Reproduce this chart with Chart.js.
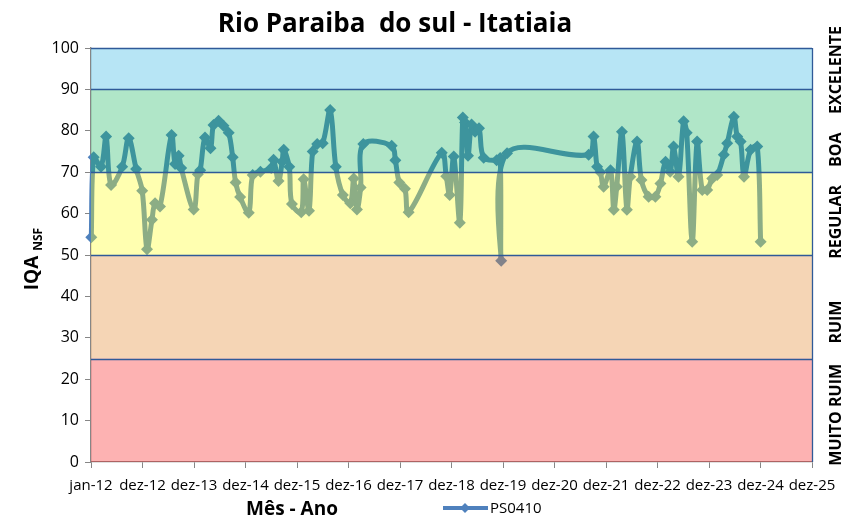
<!DOCTYPE html>
<html>
<head>
<meta charset="utf-8">
<script src="https://cdn.jsdelivr.net/npm/chart.js@4/dist/chart.umd.min.js"></script>
<style>
  html, body { margin: 0; padding: 0; background: #fff; }
  #wrap { width: 846px; height: 518px; }
</style>
</head>
<body>
<div id="wrap"><canvas id="c" width="846" height="518"></canvas></div>
<script>
// ---- data ----
const dates = [
  "2012-01-03","2012-01-20","2012-03-12","2012-04-17","2012-05-22","2012-08-09","2012-09-24","2012-11-16","2012-12-29",
  "2013-02-01","2013-03-08","2013-03-30","2013-05-04","2013-07-25","2013-08-19","2013-09-13","2013-10-01","2013-12-29",
  "2014-01-27","2014-02-13","2014-03-19","2014-04-27","2014-05-18","2014-06-23","2014-07-28","2014-09-03","2014-10-01","2014-10-22","2014-11-23",
  "2015-01-23","2015-02-20","2015-04-16","2015-07-01","2015-07-18","2015-08-22","2015-09-17","2015-09-28","2015-11-06","2015-11-25",
  "2016-01-30","2016-02-16","2016-03-25","2016-04-20","2016-05-22","2016-06-30","2016-08-22","2016-10-01","2016-11-20",
  "2017-01-12","2017-02-05","2017-02-28","2017-03-26","2017-04-14","2017-11-01","2017-11-27","2017-12-25",
  "2018-02-03","2018-03-01","2018-10-22","2018-11-23","2018-12-17",
  "2019-01-15","2019-02-27","2019-03-20","2019-04-05","2019-04-26","2019-05-21","2019-06-15","2019-07-13","2019-08-15","2019-11-15","2019-12-10","2019-12-17",
  "2020-01-28",
  "2021-08-28","2021-10-02","2021-10-27","2021-11-19","2021-12-12",
  "2022-01-30","2022-02-22","2022-03-15","2022-04-21","2022-05-26","2022-06-19","2022-08-06","2022-09-06","2022-10-27","2022-12-14",
  "2023-01-19","2023-02-24","2023-03-29","2023-04-22","2023-05-27","2023-07-02","2023-07-24","2023-09-01","2023-10-06","2023-11-11","2023-12-16",
  "2024-01-21","2024-02-25","2024-04-12","2024-05-06","2024-06-22","2024-07-16","2024-08-09","2024-09-02","2024-10-19","2024-12-05","2024-12-29"
];
const iqa = [
  54.3,73.6,71.3,78.6,66.9,71.3,78.2,70.8,65.5,
  51.4,58.5,62.5,61.7,79,72,74,71,61,
  69.5,70.5,78.4,75.8,81.4,82.4,81.2,79.5,73.6,67.5,64,
  60.2,69.3,70.1,71,73,67.9,72.5,75.4,71.3,62.3,
  60.3,68.3,60.7,75,76.8,77,85,71.3,64.5,
  62.5,68.5,61,66.3,76.8,76.4,72.9,67.5,
  66,60.3,74.7,69,64.5,
  73.8,57.8,83.2,82,74,81.5,79.8,80.6,73.5,72.9,73.4,48.6,
  74.6,
  74.2,78.6,71.3,70,66.5,
  70.5,60.9,66.5,79.8,60.9,68.9,77.4,68.1,64.1,64.1,
  67.3,72.5,70.1,76.2,68.9,82.3,79.5,53.2,77.4,65.7,65.7,
  68.5,69.3,74.2,77,83.4,78.6,77.4,68.9,75.4,76.2,53.2
];
const xTickLabels = ["jan-12","dez-12","dez-13","dez-14","dez-15","dez-16","dez-17","dez-18","dez-19","dez-20","dez-21","dez-22","dez-23","dez-24","dez-25"];
const seriesName = "PS0410";
const bandLimits = [0, 25, 50, 70, 90, 100];
const bandNames = ["MUITO RUIM", "RUIM", "REGULAR", "BOA", "EXCELENTE"];
const bandLabelAt = [11.4, 33.8, 58, 75.4, 94.7];

// ---- styles ----
const NARROW = "'Liberation Sans Narrow', 'Open Sans', sans-serif";
const LINE_BLUE = "#4F81BD";
// band colours laid over the line with alpha, so on white they give the reference tints
const BAND_ALPHA = 0.35;
const bandRGB = [[249,35,35],[226,135,43],[255,255,29],[29,184,98],[49,181,226]];
const BORDER_BLUE = "#2F5A98";

const day0 = Date.UTC(2012, 0, 1);
function toDays(s) {
  const p = s.split("-").map(Number);
  return (Date.UTC(p[0], p[1] - 1, p[2]) - day0) / 86400000;
}
const points = dates.map((d, i) => ({ x: toDays(d), y: iqa[i] }));

const bandsPlugin = {
  id: "bands",
  afterDatasetsDraw(chart) {
    const { ctx, chartArea: a, scales: { y } } = chart;
    ctx.save();
    for (let i = 0; i < bandNames.length; i++) {
      const top = y.getPixelForValue(bandLimits[i + 1]);
      const bot = y.getPixelForValue(bandLimits[i]);
      const c = bandRGB[i];
      ctx.fillStyle = `rgba(${c[0]},${c[1]},${c[2]},${BAND_ALPHA})`;
      ctx.fillRect(a.left, top, a.right - a.left, bot - top);
    }
    ctx.strokeStyle = BORDER_BLUE;
    ctx.lineWidth = 1.3;
    for (let i = 1; i < bandLimits.length; i++) {
      const py = Math.round(y.getPixelForValue(bandLimits[i])) + 0.5;
      ctx.beginPath();
      ctx.moveTo(a.left, py);
      ctx.lineTo(a.right, py);
      ctx.stroke();
    }
    ctx.beginPath();
    ctx.moveTo(Math.round(a.right) + 0.5, a.top);
    ctx.lineTo(Math.round(a.right) + 0.5, a.bottom);
    ctx.stroke();

    // band names on the right
    ctx.fillStyle = "#000";
    ctx.font = "bold 16px " + NARROW;
    ctx.textAlign = "center";
    ctx.textBaseline = "middle";
    for (let i = 0; i < bandNames.length; i++) {
      ctx.save();
      ctx.translate(836, y.getPixelForValue(bandLabelAt[i]));
      ctx.rotate(-Math.PI / 2);
      ctx.fillText(bandNames[i], 0, 0);
      ctx.restore();
    }
    ctx.restore();
  },
  afterDraw(chart) {
    const { ctx } = chart;
    ctx.save();
    ctx.fillStyle = "#000";
    // title
    ctx.font = "bold 26px " + NARROW;
    ctx.textAlign = "center";
    ctx.textBaseline = "middle";
    ctx.fillText("Rio Paraiba  do sul - Itatiaia", 395, 25);

    // y title with subscript
    ctx.save();
    ctx.translate(31, 259);
    ctx.rotate(-Math.PI / 2);
    ctx.font = "bold 19px " + NARROW;
    const w1 = ctx.measureText("IQA ").width;
    ctx.font = "bold 12px " + NARROW;
    const w2 = ctx.measureText("NSF").width;
    ctx.textAlign = "left";
    ctx.textBaseline = "alphabetic";
    ctx.font = "bold 19px " + NARROW;
    ctx.fillText("IQA", -(w1 + w2) / 2, 7);
    ctx.font = "bold 12px " + NARROW;
    ctx.fillText("NSF", -(w1 + w2) / 2 + w1, 11);
    ctx.restore();

    // x title
    ctx.font = "bold 19px " + NARROW;
    ctx.textAlign = "center";
    ctx.fillText("Mês - Ano", 292, 510);

    // legend
    ctx.strokeStyle = LINE_BLUE;
    ctx.lineWidth = 4;
    ctx.beginPath();
    ctx.moveTo(443, 508);
    ctx.lineTo(488, 508);
    ctx.stroke();
    ctx.fillStyle = LINE_BLUE;
    ctx.beginPath();
    ctx.moveTo(465, 503); ctx.lineTo(470, 508); ctx.lineTo(465, 513); ctx.lineTo(460, 508);
    ctx.closePath();
    ctx.fill();
    ctx.fillStyle = "#000";
    ctx.font = "15px " + NARROW;
    ctx.textAlign = "left";
    ctx.fillText(seriesName, 490, 509);
    ctx.restore();
  }
};

new Chart(document.getElementById("c"), {
  type: "line",
  data: {
    datasets: [{
      label: seriesName,
      data: points,
      borderColor: LINE_BLUE,
      backgroundColor: LINE_BLUE,
      borderWidth: 5,
      tension: 0.35,
      pointStyle: "rectRot",
      pointRadius: 6,
      pointBorderWidth: 0,
      pointBackgroundColor: LINE_BLUE,
      clip: false
    }]
  },
  options: {
    responsive: false,
    animation: false,
    events: [],
    layout: { padding: { left: 0, right: 34, top: 48, bottom: 0 } },
    plugins: { legend: { display: false }, title: { display: false }, tooltip: { enabled: false } },
    scales: {
      x: {
        type: "linear",
        min: 0,
        max: 365 * (xTickLabels.length - 1),
        afterFit: s => { s.height = 56; },
        afterBuildTicks: s => {
          s.ticks = xTickLabels.map((_, i) => ({ value: i * 365 }));
        },
        ticks: {
          autoSkip: false,
          maxRotation: 0,
          color: "#000",
          font: { size: 15, family: NARROW },
          padding: 9,
          callback: v => xTickLabels[Math.round(v / 365)]
        },
        grid: { drawOnChartArea: false, tickLength: 6, color: "#868686" },
        border: { color: "#868686", width: 1.3 }
      },
      y: {
        min: 0,
        max: 100,
        afterFit: s => { s.width = 91; },
        ticks: {
          stepSize: 10,
          color: "#000",
          font: { size: 16, family: NARROW },
          padding: 6
        },
        grid: { drawOnChartArea: false, tickLength: 6, color: "#868686" },
        border: { color: "#868686", width: 1.3 }
      }
    }
  },
  plugins: [bandsPlugin]
});
</script>
</body>
</html>
